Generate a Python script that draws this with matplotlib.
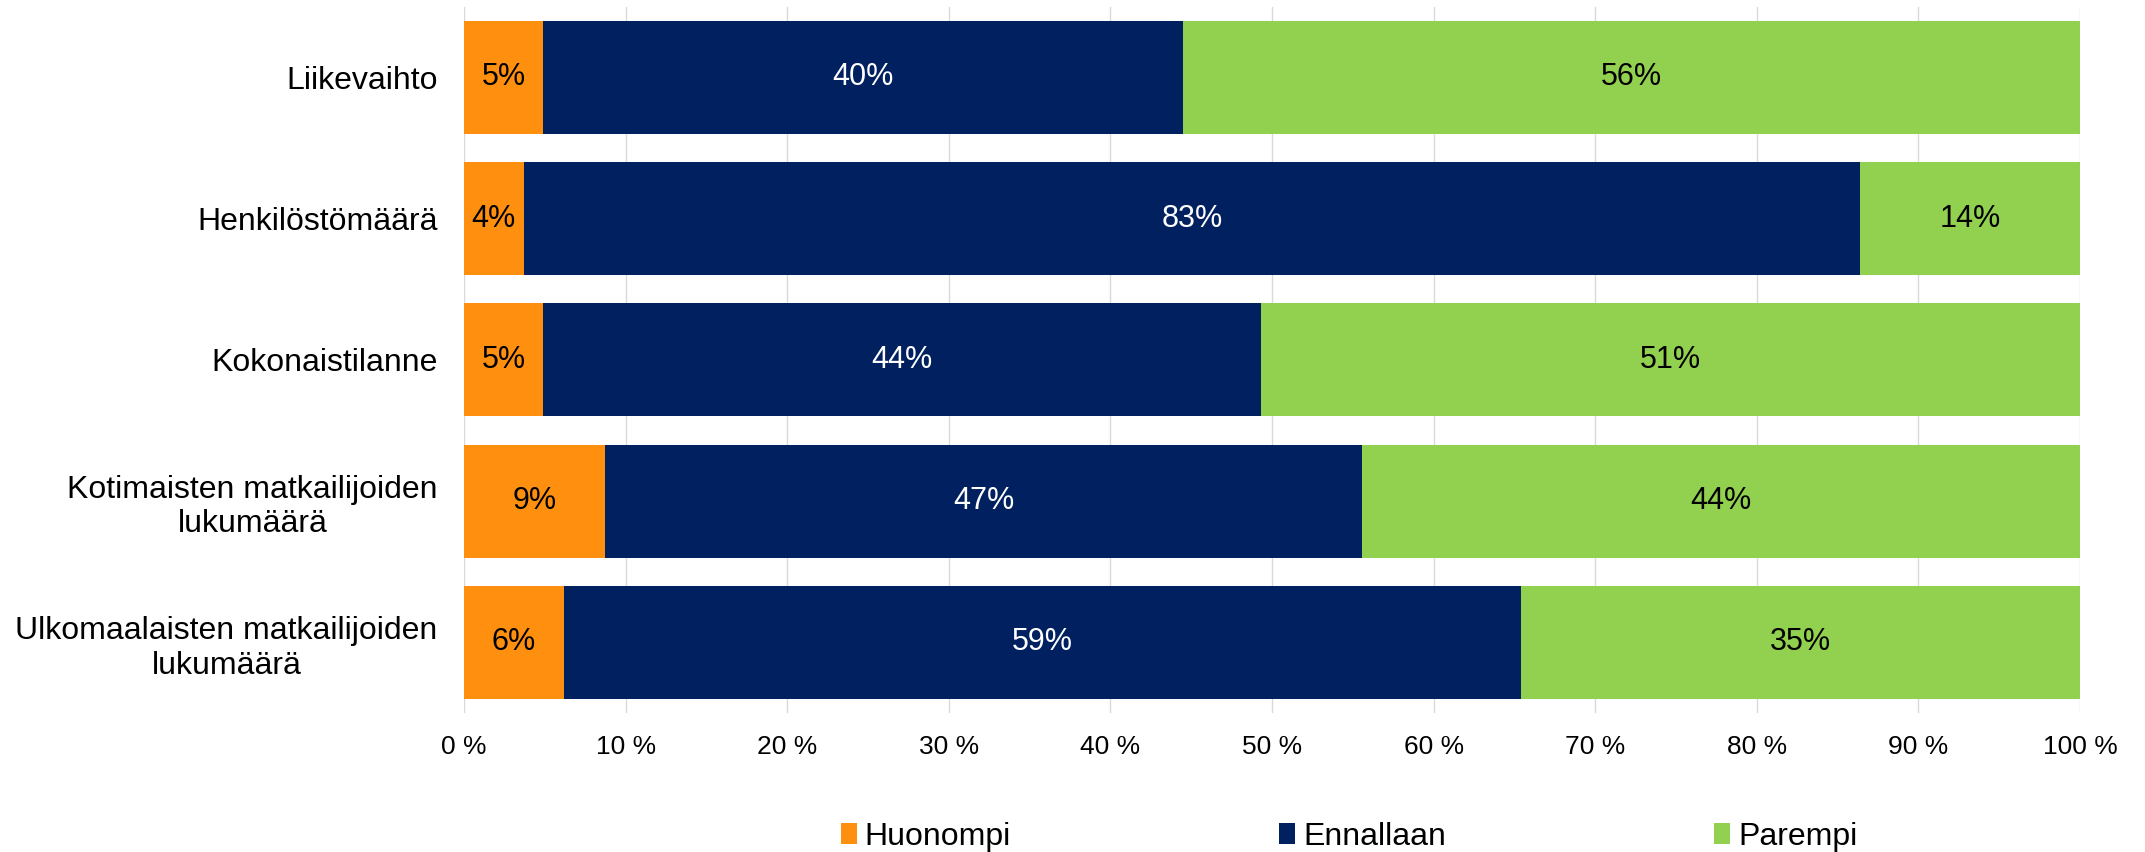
import matplotlib.pyplot as plt
import numpy as np

plt.rcParams['font.family'] = ['Liberation Sans', 'DejaVu Sans']

categories = ['Liikevaihto', 'Henkilöstömäärä', 'Kokonaistilanne',
              'Kotimaisten matkailijoiden\nlukumäärä',
              'Ulkomaalaisten matkailijoiden\nlukumäärä']
huonompi = [4.9, 3.7, 4.9, 8.7, 6.2]
ennallaan = [39.6, 82.7, 44.4, 46.9, 59.2]
parempi = [55.5, 13.6, 50.7, 44.4, 34.6]
series_names = ['Huonompi', 'Ennallaan', 'Parempi']
xticks = list(range(0, 101, 10))
xtick_labels = [f'{t} %' for t in xticks]

colors = ['#FF8F0F', '#00205F', '#92D050']
text_colors = ['black', 'white', 'black']

fig = plt.figure(figsize=(21.45, 8.52), dpi=100)
ax = fig.add_axes([0.2163, 0.163, 0.9697 - 0.2163, 0.992 - 0.163])

y = np.arange(len(categories))
left = np.zeros(len(categories))
for vals, name, c, tc in zip([huonompi, ennallaan, parempi], series_names, colors, text_colors):
    vals = np.array(vals)
    bars = ax.barh(y, vals, left=left, height=0.8, color=c, label=name, zorder=2)
    ax.bar_label(bars, labels=[f'{v:.0f}%' for v in vals], label_type='center',
                 color=tc, fontsize=22)
    left += vals

ax.set_xlim(0, 100)
ax.set_ylim(len(categories) - 0.5, -0.5)
ax.set_xticks(xticks)
ax.set_xticklabels(xtick_labels, fontsize=19)
ax.set_yticks(y)
ax.set_yticklabels(categories, fontsize=23, linespacing=1.2)
for t in ax.get_yticklabels():
    t.set_multialignment('center')
ax.tick_params(axis='both', length=0)
ax.tick_params(axis='x', pad=16)
ax.tick_params(axis='y', pad=19)
ax.grid(axis='x', color='#D9D9D9', linewidth=1.0, zorder=0)
ax.set_axisbelow(True)
for s in ax.spines.values():
    s.set_visible(False)

fig.legend(loc='center', bbox_to_anchor=(0.629, 0.018), ncol=3, frameon=False,
           fontsize=23, handlelength=0.5, handleheight=0.6, handletextpad=0.25,
           columnspacing=8.4, borderpad=0)

fig.savefig('out.png', dpi=100)
